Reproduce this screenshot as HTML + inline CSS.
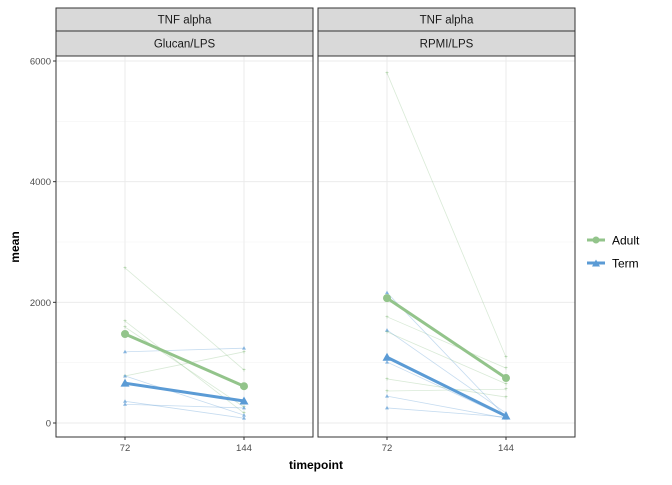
<!DOCTYPE html>
<html><head><meta charset="utf-8"><style>
body{margin:0;background:#fff;font-family:"Liberation Sans",Arial,sans-serif}
</style></head><body>
<svg id="c" width="672" height="480" xmlns="http://www.w3.org/2000/svg" font-family="Liberation Sans, Arial, sans-serif"></svg>
<script>
const timepoints=[72,144];
const yTicks=[0,2000,4000,6000];
const panels=["Glucan/LPS","RPMI/LPS"];
const glucanAdultSubjects=[[2570,880],[1690,165],[1590,265],[780,1180]];
const glucanTermSubjects=[[1180,1240],[780,130],[360,80],[310,250]];
const glucanMeans={Adult:[1475,610],Term:[660,365]};
const rpmiAdultSubjects=[[5800,1090],[1760,910],[1510,650],[730,430],[530,560]];
const rpmiTermSubjects=[[2160,100],[1540,165],[1010,100],[445,80],[250,100]];
const rpmiMeans={Adult:[2070,745],Term:[1090,115]};
const data=[{adult:glucanAdultSubjects,term:glucanTermSubjects,means:glucanMeans},{adult:rpmiAdultSubjects,term:rpmiTermSubjects,means:rpmiMeans}];
const G="#93C48B",B="#5B9BD5";
const svg=document.getElementById('c');const NS="http://www.w3.org/2000/svg";
function mk(t,a,p){const e=document.createElementNS(NS,t);for(const k in a)e.setAttribute(k,a[k]);(p||svg).appendChild(e);return e;}
const py0=56,py1=437;
function y(v){return 423-(v/6000)*(423-61);}
const px=[[56,313],[318,575]];
function x(i,t){const [a,b]=px[i];const w=b-a;const lo=72-(144-72)*0.58,hi=144+(144-72)*0.58;return a+(t-lo)/(hi-lo)*w;}
panels.forEach((name,i)=>{
 const [a,b]=px[i];
 const g=mk('g',{});
 mk('rect',{x:a,y:py0,width:b-a,height:py1-py0,fill:'#fff'},g);
 [1000,3000,5000].forEach(v=>mk('line',{x1:a,x2:b,y1:y(v),y2:y(v),stroke:'#f3f3f3','stroke-width':0.6},g));
 yTicks.forEach(v=>mk('line',{x1:a,x2:b,y1:y(v),y2:y(v),stroke:'#ebebeb','stroke-width':1},g));
 timepoints.forEach(t=>mk('line',{x1:x(i,t),x2:x(i,t),y1:py0,y2:py1,stroke:'#ebebeb','stroke-width':1},g));
 const d=data[i];
 d.adult.forEach(s=>{const l=mk('polyline',{points:s.map((v,j)=>x(i,timepoints[j])+','+y(v)).join(' '),fill:'none',stroke:G,'stroke-opacity':0.35,'stroke-width':0.8},g);
  s.forEach((v,j)=>mk('text',{x:x(i,timepoints[j]),y:y(v)+2,'font-size':6,fill:G,'text-anchor':'middle'},g).textContent='+');});
 d.term.forEach(s=>{const l=mk('polyline',{points:s.map((v,j)=>x(i,timepoints[j])+','+y(v)).join(' '),fill:'none',stroke:B,'stroke-opacity':0.35,'stroke-width':0.8},g);
  s.forEach((v,j)=>mk('path',{d:`M${x(i,timepoints[j])-2},${y(v)+1.5}l2,-3.5l2,3.5z`,fill:B,'fill-opacity':0.7},g));});
 const am=mk('polyline',{points:d.means.Adult.map((v,j)=>x(i,timepoints[j])+','+y(v)).join(' '),fill:'none',stroke:G,'stroke-width':3},g);
 d.means.Adult.forEach((v,j)=>mk('circle',{cx:x(i,timepoints[j]),cy:y(v),r:4,fill:G},g));
 const tm=mk('polyline',{points:d.means.Term.map((v,j)=>x(i,timepoints[j])+','+y(v)).join(' '),fill:'none',stroke:B,'stroke-width':3},g);
 d.means.Term.forEach((v,j)=>mk('path',{d:`M${x(i,timepoints[j])-4.5},${y(v)+3.5}l4.5,-8l4.5,8z`,fill:B},g));
 mk('rect',{x:a,y:py0,width:b-a,height:py1-py0,fill:'none',stroke:'#333','stroke-width':1},g);
 // strips
 [[8,31,'TNF alpha'],[31,56,name]].forEach(([t0,t1,lab])=>{
  const r=mk('rect',{x:a,y:t0,width:b-a,height:t1-t0,fill:'#d9d9d9',stroke:'#333','stroke-width':1},g);
  const tx=mk('text',{x:(a+b)/2,y:(t0+t1)/2+4,'font-size':11.5,fill:'#1a1a1a','text-anchor':'middle'},g);tx.textContent=lab;});
 timepoints.forEach(t=>{mk('line',{x1:x(i,t),x2:x(i,t),y1:py1,y2:py1+3,stroke:'#333'},g);
  const tx=mk('text',{x:x(i,t),y:py1+14,'font-size':9.5,fill:'#4d4d4d','text-anchor':'middle'},g);tx.textContent=t;});
});
yTicks.forEach(v=>{mk('line',{x1:53,x2:56,y1:y(v),y2:y(v),stroke:'#333'});
 const t=mk('text',{x:51,y:y(v)+3.5,'font-size':9.5,fill:'#4d4d4d','text-anchor':'end'});t.textContent=v;});
let t=mk('text',{x:316,y:469,'font-size':12,'font-weight':'bold','text-anchor':'middle',fill:'#000'});t.textContent='timepoint';
t=mk('text',{x:19,y:247,'font-size':12,'font-weight':'bold','text-anchor':'middle',fill:'#000',transform:'rotate(-90 19 247)'});t.textContent='mean';
[['Adult',G,240],['Term',B,263]].forEach(([lab,c,yy])=>{
 const g=mk('g',{});
 mk('line',{x1:587,x2:605,y1:yy,y2:yy,stroke:c,'stroke-width':3},g);
 if(lab==='Adult')mk('circle',{cx:596,cy:yy,r:3.5,fill:c},g);else mk('path',{d:`M592,${yy+3.5}l4,-7l4,7z`,fill:c},g);
 const tx=mk('text',{x:612,y:yy+4.5,'font-size':12,fill:'#000'},g);tx.textContent=lab;});
</script>
</body></html>
